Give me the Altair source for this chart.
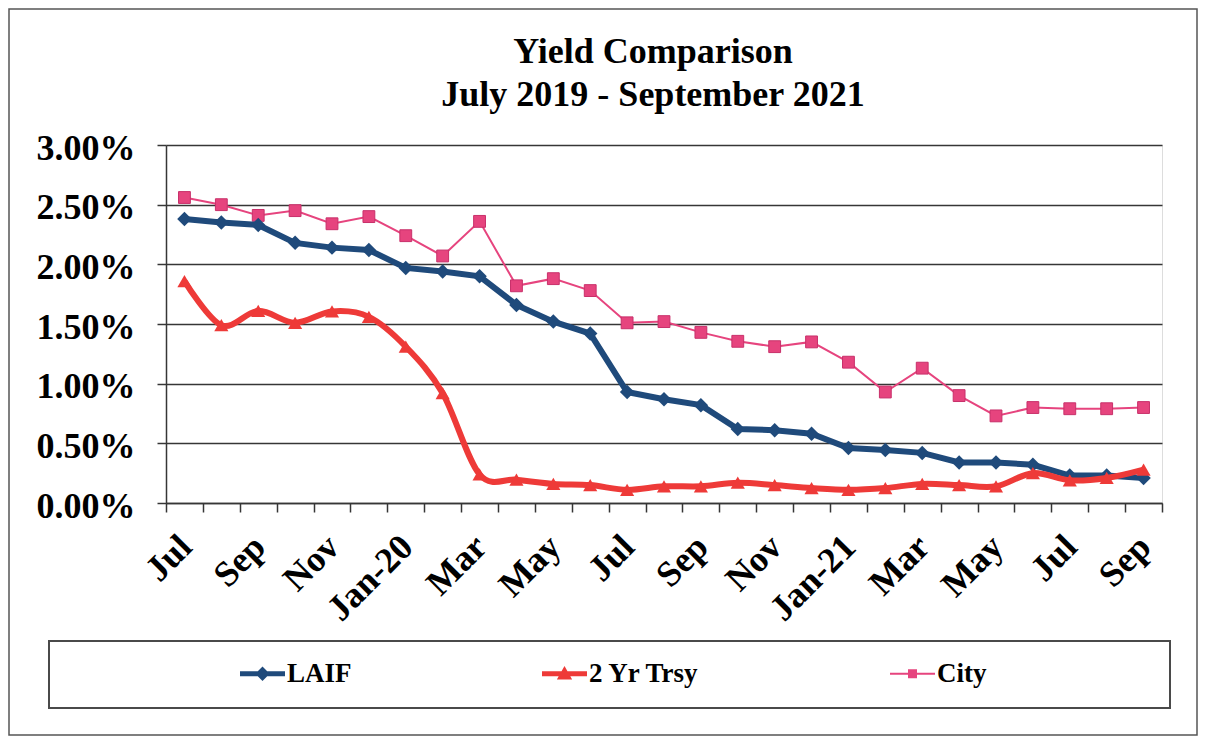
import altair as alt
import pandas as pd

MONTHS = ["Jul-19", "Aug-19", "Sep-19", "Oct-19", "Nov-19", "Dec-19",
          "Jan-20", "Feb-20", "Mar-20", "Apr-20", "May-20", "Jun-20",
          "Jul-20", "Aug-20", "Sep-20", "Oct-20", "Nov-20", "Dec-20",
          "Jan-21", "Feb-21", "Mar-21", "Apr-21", "May-21", "Jun-21",
          "Jul-21", "Aug-21", "Sep-21"]
TICK_LABELS = ["Jul", "", "Sep", "", "Nov", "", "Jan-20", "", "Mar", "", "May", "",
               "Jul", "", "Sep", "", "Nov", "", "Jan-21", "", "Mar", "", "May", "",
               "Jul", "", "Sep"]

LAIF = [2.38, 2.35, 2.33, 2.18, 2.14, 2.12, 1.97, 1.94, 1.90, 1.66, 1.52, 1.42,
        0.93, 0.87, 0.82, 0.62, 0.61, 0.58, 0.46, 0.445, 0.42, 0.34, 0.34, 0.32,
        0.23, 0.23, 0.21]
TRSY = [1.86, 1.49, 1.61, 1.51, 1.605, 1.56, 1.31, 0.92, 0.24, 0.195, 0.16, 0.15,
        0.11, 0.14, 0.14, 0.17, 0.15, 0.125, 0.11, 0.125, 0.16, 0.15, 0.14, 0.25,
        0.19, 0.21, 0.28]
CITY = [2.56, 2.50, 2.41, 2.45, 2.34, 2.40, 2.24, 2.07, 2.36, 1.82, 1.88, 1.78,
        1.51, 1.52, 1.43, 1.355, 1.31, 1.35, 1.18, 0.93, 1.13, 0.90, 0.73, 0.80,
        0.79, 0.79, 0.80]

SERIES = ["LAIF", "2 Yr Trsy", "City"]
COLORS = ["#1f4a7b", "#ee3a38", "#e6447e"]
Y_TICKS = [0, 0.5, 1, 1.5, 2, 2.5, 3]
TITLE_LINES = ["Yield Comparison", "July 2019 - September 2021"]

# legend symbols: line segment + marker (unit coordinates)
LEGEND_PATHS = [
    "M-1,-0.11H1V0.11H-1Z M0,-0.32L0.32,0L0,0.32L-0.32,0Z",
    "M-1,-0.11H1V0.11H-1Z M0,-0.34L0.34,0.26L-0.34,0.26Z",
    "M-1,-0.045H1V0.045H-1Z M-0.2,-0.2H0.2V0.2H-0.2Z",
]

rows = []
for name, vals in zip(SERIES, [LAIF, TRSY, CITY]):
    for m, v in zip(MONTHS, vals):
        rows.append({"month": m, "series": name, "yield": v})
df = pd.DataFrame(rows)

FONT = "Liberation Serif"
GRID = "#363636"

label_expr = ("[" + ",".join(f"'{t}'" for t in TICK_LABELS) + "][indexof(["
              + ",".join(f"'{m}'" for m in MONTHS) + "], datum.value)]")

x_enc = alt.X(
    "month:O", sort=MONTHS,
    scale=alt.Scale(type="band", domain=MONTHS, paddingInner=0, paddingOuter=0),
    axis=alt.Axis(title=None, labelExpr=label_expr, labelAngle=-45, labelAlign="right",
                  labelBaseline="middle", labelFont=FONT, labelFontSize=36,
                  labelFontWeight="bold", labelColor="black", labelOffset=1,
                  labelPadding=29, tickBand="extent", tickSize=9, tickColor=GRID,
                  tickWidth=1.5, domainColor=GRID, domainWidth=1.5, grid=False,
                  labelOverlap=False),
)
y_enc = alt.Y(
    "yield:Q",
    scale=alt.Scale(domain=[0, 3], nice=False, zero=True),
    axis=alt.Axis(title=None, values=Y_TICKS,
                  labelExpr="format(datum.value / 100, '.2%')",
                  labelFont=FONT, labelFontSize=36, labelFontWeight="bold",
                  labelColor="black", labelPadding=22, labelOffset=3,
                  tickSize=9, tickColor=GRID, tickWidth=1.5,
                  domainColor=GRID, domainWidth=1.5,
                  grid=True, gridColor=GRID, gridWidth=1.6),
)
color_scale = alt.Scale(domain=SERIES, range=COLORS)

base = alt.Chart(df)

layers = []
# City (thin pink, squares)
city = base.transform_filter(alt.datum.series == "City")
layers.append(city.mark_line(strokeWidth=2, color=COLORS[2]).encode(x=x_enc, y=y_enc))
layers.append(city.mark_point(shape="square", filled=True, size=140, opacity=1,
                              color=COLORS[2], stroke="#c8306a", strokeWidth=1)
              .encode(x=x_enc, y=y_enc))
# LAIF (thick navy, diamonds)
laif = base.transform_filter(alt.datum.series == "LAIF")
layers.append(laif.mark_line(strokeWidth=6, color=COLORS[0]).encode(x=x_enc, y=y_enc))
layers.append(laif.mark_point(shape="diamond", filled=True, size=210, opacity=1,
                              color=COLORS[0])
              .encode(x=x_enc, y=y_enc))
# 2 Yr Treasury (thick red, smoothed, triangles)
trsy = base.transform_filter(alt.datum.series == "2 Yr Trsy")
layers.append(trsy.mark_line(strokeWidth=6, interpolate="cardinal", color=COLORS[1])
              .encode(x=x_enc, y=y_enc))
layers.append(trsy.mark_point(shape="triangle-up", filled=True, size=200, opacity=1,
                              color=COLORS[1])
              .encode(x=x_enc, y=y_enc))

legend_props = dict(title=None, orient="none", legendX=74, legendY=506,
                    direction="horizontal", labelFont=FONT, labelFontSize=27,
                    labelFontWeight="bold", labelColor="black", symbolOpacity=1,
                    symbolStrokeWidth=0, symbolSize=2025, columnPadding=190,
                    labelOffset=2, padding=0)
legend_layer = base.mark_point(filled=True, opacity=0, size=2025).encode(
    x=x_enc, y=y_enc,
    color=alt.Color("series:N", scale=color_scale, legend=alt.Legend(**legend_props)),
    shape=alt.Shape("series:N", scale=alt.Scale(domain=SERIES, range=LEGEND_PATHS),
                    legend=alt.Legend(**legend_props)),
)
layers.append(legend_layer)

box_data = alt.Data(values=[{"k": 1}])
legend_box = alt.Chart(box_data).mark_rect(fill="transparent", stroke="#4a4a4a",
                                           strokeWidth=2).encode(
    x=alt.value(-117), x2=alt.value(1004), y=alt.value(496), y2=alt.value(563))
outer_box = alt.Chart(box_data).mark_rect(fill="transparent", stroke="#555555",
                                          strokeWidth=1.5).encode(
    x=alt.value(-157), x2=alt.value(1031), y=alt.value(-136), y2=alt.value(590))

chart = alt.layer(outer_box, legend_box, *layers).properties(
    width=996, height=358,
    autosize=alt.AutoSizeParams(type="none"),
    padding={"left": 158, "top": 137, "right": 36, "bottom": 233},
    title=alt.TitleParams(TITLE_LINES,
                          font=FONT, fontSize=36, fontWeight="bold", color="black",
                          lineHeight=43, anchor="middle", dx=-11, offset=-142,
                          baseline="bottom"),
).configure_view(
    stroke=GRID, strokeWidth=1.5
).configure_legend(
    labelFont=FONT, labelFontSize=27, labelFontWeight="bold", labelColor="black"
).configure(background="white", font=FONT)

chart.save("out.html", embed_options={"renderer": "svg", "actions": False})
